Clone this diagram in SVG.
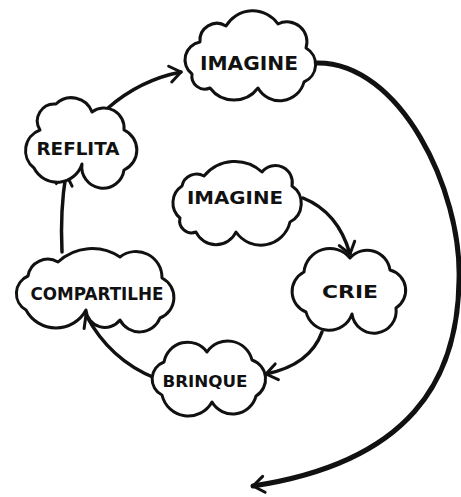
<svg xmlns="http://www.w3.org/2000/svg" width="461" height="497" viewBox="0 0 461 497">
  <style>
    .cloud { fill: #ffffff; stroke: #111111; stroke-width: 3; stroke-linejoin: round; }
    .label { font-family: "DejaVu Sans", "Liberation Sans", sans-serif; font-weight: bold; fill: #111111; text-anchor: middle; }
    .link { fill: none; stroke: #111111; stroke-width: 3.5; stroke-linecap: round; }
    .loop { fill: none; stroke: #111111; stroke-width: 5; stroke-linecap: round; }
  </style>
  <defs>
    <marker id="open" markerUnits="userSpaceOnUse" markerWidth="30" markerHeight="30" refX="0" refY="0" viewBox="-15 -15 30 30" orient="auto" overflow="visible">
      <path d="M -11,-8 L 0,0 L -11,8" fill="none" stroke="#111111" stroke-width="3" stroke-linecap="round" stroke-linejoin="round"/>
    </marker>
  </defs>

  <rect width="461" height="497" fill="#ffffff"/>

  <!-- connectors -->
  <g id="connectors">
    <path class="link" d="M 108,108 Q 140,80 181,72" marker-end="url(#open)"/>
    <path class="link" d="M 303,198 Q 338,212 350,254" marker-end="url(#open)"/>
    <path class="link" d="M 322,332 Q 310,365 266,374" marker-end="url(#open)"/>
    <path class="link" d="M 155,378 Q 110,360 86,315" marker-end="url(#open)"/>
    <path class="link" d="M 62,252 Q 60,210 66,174" marker-end="url(#open)"/>
    <path class="loop" d="M 317,63 C 400,62 462,190 459,280 C 458,380 410,462 253,486" marker-end="url(#open)"/>
  </g>

  <!-- outer cycle: imagine -->
  <g id="imagine-top">
    <path class="cloud" d="M 192,74 A 18,18 0 0 1 200,42 A 17,17 0 0 1 226,26 A 31,31 0 0 1 278,24 A 20,20 0 0 1 306,48 A 19,19 0 0 1 304,82 A 25,25 0 0 1 258,88 A 30,30 0 0 1 210,88 A 13,13 0 0 1 192,74 Z"/>
    <text class="label" x="249" y="70" font-size="20" textLength="98" lengthAdjust="spacingAndGlyphs">IMAGINE</text>
  </g>

  <!-- inner start: imagine -->
  <g id="imagine-inner">
    <path class="cloud" d="M 180,218 A 20,20 0 0 1 182,186 A 15,15 0 0 1 204,176 A 40,40 0 0 1 262,172 A 17,17 0 0 1 292,186 A 21,21 0 0 1 290,222 A 30,30 0 0 1 236,232 A 22,22 0 0 1 196,232 A 12,12 0 0 1 180,218 Z"/>
    <text class="label" x="235" y="204" font-size="18" textLength="96" lengthAdjust="spacingAndGlyphs">IMAGINE</text>
  </g>

  <g id="crie">
    <path class="cloud" d="M 306,312 A 22,22 0 0 1 304,272 A 26,26 0 0 1 350,258 A 23,23 0 0 1 390,270 A 21,21 0 0 1 396,308 A 22,22 0 0 1 352,314 A 24,24 0 0 1 306,312 Z"/>
    <text class="label" x="350" y="298" font-size="17" textLength="56" lengthAdjust="spacingAndGlyphs">CRIE</text>
  </g>

  <g id="brinque">
    <path class="cloud" d="M 162,395 A 18,18 0 0 1 164,362 A 24,24 0 0 1 207,352 A 25,25 0 0 1 252,360 A 20,20 0 0 1 256,396 A 24,24 0 0 1 212,402 A 27,27 0 0 1 162,395 Z"/>
    <text class="label" x="205" y="387" font-size="15" textLength="85" lengthAdjust="spacingAndGlyphs">BRINQUE</text>
  </g>

  <g id="compartilhe">
    <path class="cloud" d="M 26,310 A 19,19 0 0 1 28,276 A 20,20 0 0 1 58,262 A 50,50 0 0 1 120,257 A 26,26 0 0 1 162,278 A 22,22 0 0 1 160,318 A 22,22 0 0 1 120,320 A 19,19 0 0 1 86,310 A 34,34 0 0 1 26,310 Z"/>
    <text class="label" x="97" y="300" font-size="17" textLength="133" lengthAdjust="spacingAndGlyphs">COMPARTILHE</text>
  </g>

  <g id="reflita">
    <path class="cloud" d="M 34,168 A 22,22 0 0 1 40,130 A 17,17 0 0 1 56,104 A 22,22 0 0 1 92,112 A 20,20 0 0 1 124,130 A 22,22 0 0 1 124,170 A 21,21 0 0 1 82,164 A 26,26 0 0 1 34,168 Z"/>
    <text class="label" x="78" y="155" font-size="17" textLength="83" lengthAdjust="spacingAndGlyphs">REFLITA</text>
  </g>
</svg>
